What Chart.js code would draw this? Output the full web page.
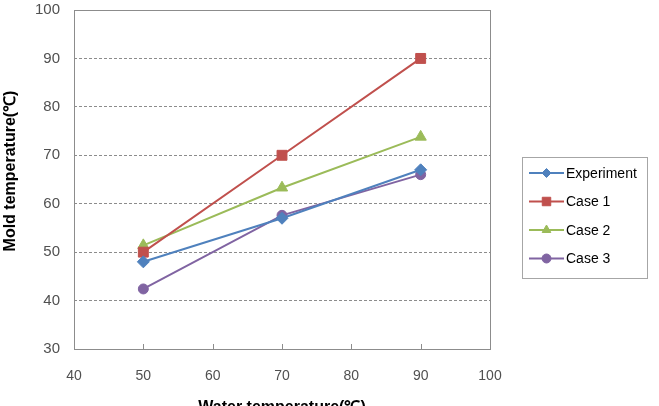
<!DOCTYPE html>
<html><head><meta charset="utf-8">
<script src="https://cdn.jsdelivr.net/npm/chart.js@4"></script>
<style>html,body{margin:0;padding:0;background:#fff}#w{width:659px;height:406px}</style>
</head><body><div id="w"><canvas id="c" width="659" height="406"></canvas></div>
<script>
const waterTemps = [50, 70, 90];
const experiment = [48, 57, 67];
const case1 = [50, 70, 90];
const case2 = [51.4, 63.3, 73.8];
const case3 = [42.4, 57.6, 66];
const seriesNames = ['Experiment', 'Case 1', 'Case 2', 'Case 3'];
const seriesColors = ['#4F81BD', '#C0504D', '#9BBB59', '#8064A2'];
const seriesMarkers = ['rectRot', 'rect', 'triangle', 'circle'];
const seriesSizes = [6, 7, 6.5, 5];
const legendSizes = [4.5, 6, 5, 4.5];
const allValues = [experiment, case1, case2, case3];
const FONT = '"Liberation Sans", Arial, sans-serif';

const datasets = allValues.map((vals, i) => ({
  label: seriesNames[i],
  data: vals.map((v, j) => ({x: waterTemps[j], y: v})),
  borderColor: seriesColors[i],
  backgroundColor: seriesColors[i],
  pointStyle: seriesMarkers[i],
  pointRadius: seriesSizes[i],
  pointBorderWidth: 1,
  borderWidth: 2,
  showLine: true,
  tension: 0
}));

const framePlugin = {
  id: 'frame',
  afterDraw(chart) {
    const {ctx, chartArea: a} = chart;
    ctx.save();
    ctx.strokeStyle = '#8c8c8c';
    ctx.lineWidth = 1;
    ctx.strokeRect(Math.round(a.left) + 0.5, Math.round(a.top) + 0.5, Math.round(a.right - a.left), Math.round(a.bottom - a.top));
    const xs = chart.scales.x;
    for (const t of xs.ticks) {
      const px = Math.round(xs.getPixelForValue(t.value)) + 0.5;
      ctx.beginPath(); ctx.moveTo(px, a.bottom); ctx.lineTo(px, a.bottom - 5); ctx.stroke();
    }
    // y title
    ctx.save();
    ctx.translate(11, 171);
    ctx.rotate(-Math.PI / 2);
    ctx.font = 'bold 16px ' + FONT;
    ctx.fillStyle = '#000';
    ctx.textAlign = 'center';
    ctx.textBaseline = 'middle';
    ctx.fillText('Mold temperature(℃)', 0, 0);
    ctx.restore();
    // legend
    const lx = 522, ly = 157, lw = 125, lh = 121;
    ctx.strokeStyle = '#a6a6a6';
    ctx.strokeRect(lx + 0.5, ly + 0.5, lw, lh);
    ctx.font = '14px ' + FONT;
    ctx.textBaseline = 'middle';
    chart.data.datasets.forEach((ds, i) => {
      const y = 173 + i * 28.5;
      ctx.strokeStyle = ds.borderColor;
      ctx.lineWidth = 2;
      ctx.beginPath(); ctx.moveTo(529, y); ctx.lineTo(564, y); ctx.stroke();
      ctx.fillStyle = ds.backgroundColor;
      ctx.lineWidth = 1;
      Chart.helpers.drawPoint(ctx, {pointStyle: ds.pointStyle, radius: legendSizes[i], borderWidth: 1, rotation: 0}, 546.5, y);
      ctx.fillStyle = '#000';
      ctx.fillText(ds.label, 566, y + 1);
    });
    ctx.restore();
  }
};

new Chart(document.getElementById('c'), {
  type: 'scatter',
  data: {datasets},
  options: {
    responsive: false,
    animation: false,
    layout: {padding: {top: 10, right: 169, left: 0, bottom: 0}},
    plugins: {legend: {display: false}, tooltip: {enabled: false}},
    scales: {
      x: {
        type: 'linear', min: 40, max: 100,
        ticks: {stepSize: 10, color: '#505050', font: {size: 14, family: FONT}, padding: 19},
        grid: {display: false, drawTicks: false},
        border: {display: false},
        title: {display: true, text: 'Water temperature(℃)', color: '#000', font: {size: 16, weight: 'bold', family: FONT}, padding: {top: 0, bottom: -11}},
        afterFit(s) { s.height = 57; s.paddingLeft = 0; s.paddingRight = 0; }
      },
      y: {
        type: 'linear', min: 30, max: 100,
        ticks: {stepSize: 10, color: '#505050', font: {size: 15, family: FONT}, padding: 14},
        grid: {color: '#8c8c8c', drawTicks: false, lineWidth: 1},
        border: {display: false, dash: [3, 2]},
        afterFit(s) { s.width = 74; s.paddingTop = 0; s.paddingBottom = 0; }
      }
    }
  },
  plugins: [framePlugin]
});
</script>
</body></html>
